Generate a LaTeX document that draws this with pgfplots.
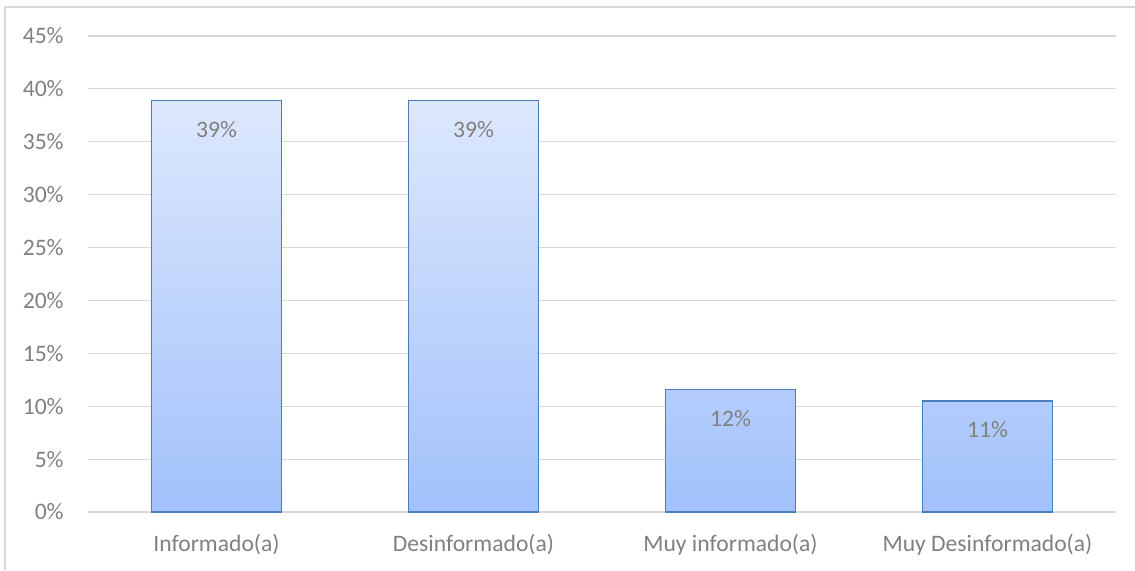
\documentclass[border=0pt]{standalone}
\usepackage{fontspec}
\setmainfont{Carlito}
\usepackage{pgfplots}
\pgfplotsset{compat=1.18}

\definecolor{txt}{HTML}{808080}
\definecolor{gridc}{HTML}{D9D9D9}
\definecolor{barline}{HTML}{4A7EBB}
\definecolor{bartop}{HTML}{DDE8FD}
\definecolor{barbot}{HTML}{A2C1FB}

\begin{document}
\begin{tikzpicture}[x=1pt,y=1pt]
% page = 1135x570 px at 0.5pt per px, origin at the plot's lower left
\useasboundingbox (-44,-29) rectangle (523.5,256);
\draw[gridc, line width=0.6pt] (-41.5,-29) -- (-41.5,252.5) -- (523.5,252.5);
\begin{axis}[
  at={(0,0)}, anchor=south west,
  scale only axis,
  width=514pt, height=238pt,
  xmin=-0.5, xmax=3.5,
  ymin=0, ymax=45,
  ytick={0,5,...,45},
  xtick={0,1,2,3},
  xticklabels={Informado(a),Desinformado(a),Muy informado(a),Muy Desinformado(a)},
  axis line style={draw=none},
  major tick length=0pt,
  ymajorgrids,
  grid style={gridc, line width=0.6pt},
  yticklabel={\pgfmathprintnumber{\tick}\%},
  /pgf/number format/assume math mode=true,
  ticklabel style={font=\fontsize{11.8}{14}\selectfont, text=txt},
  yticklabel style={inner sep=0pt, xshift=-12pt},
  xticklabel style={inner sep=0pt, yshift=-11pt},
  ybar, bar width=65pt,
  nodes near coords={\pgfmathprintnumber[fixed,precision=0]{\pgfplotspointmeta}\%},
  every node near coord/.append style={font=\fontsize{11.8}{14}\selectfont, text=txt,
    anchor=north, inner sep=0pt, yshift=-10pt},
]
\addplot[draw=barline, line width=0.8pt, top color=bartop, bottom color=barbot]
coordinates {
(0, 38.9)
(1, 38.9)
(2, 11.6)
(3, 10.5)
};
\end{axis}
\end{tikzpicture}
\end{document}
